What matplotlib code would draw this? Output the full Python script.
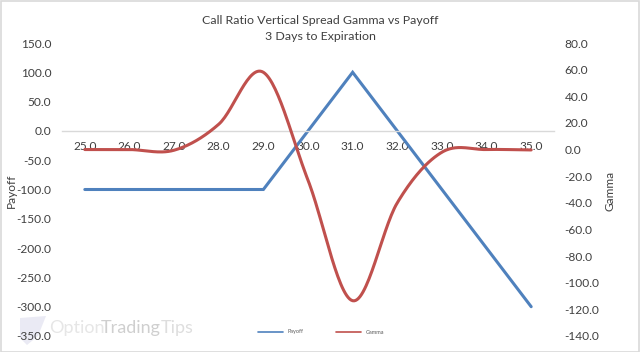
#!/usr/bin/env python3
"""Call ratio vertical spread: gamma vs payoff, two y axes over a category x axis."""

import numpy as np
import matplotlib
matplotlib.use("Agg")
import matplotlib.pyplot as plt
from matplotlib.patches import Polygon, Rectangle

plt.rcParams['font.family'] = ['Lato', 'DejaVu Sans']

# === Data ===
strikes = [25.0, 26.0, 27.0, 28.0, 29.0, 30.0, 31.0, 32.0, 33.0, 34.0, 35.0]
payoff = [-100, -100, -100, -100, -100, 0, 100, 0, -100, -200, -300]
gamma = [0.0, 0.0, -0.5, 19.0, 58.0, -23.0, -113.5, -40.0, -2.0, 0.0, -0.3]

payoff_ticks = [150, 100, 50, 0, -50, -100, -150, -200, -250, -300, -350]
gamma_ticks = [80, 60, 40, 20, 0, -20, -40, -60, -80, -100, -120, -140]

BLUE = '#4f81bd'
RED = '#c0504d'
TEXT = '#404040'
W, H = 640, 352
FS = 8.6


def smooth(y, n=30, tension=0.5):
    """Catmull-Rom curve through the points, like a spreadsheet smoothed line."""
    y = np.asarray(y, dtype=float)
    idx = np.arange(len(y))
    pad = np.concatenate(([y[0]], y, [y[-1]]))
    xs, ys = [], []
    t = np.linspace(0, 1, n, endpoint=False)
    for i in idx[:-1]:
        p0, p1, p2, p3 = pad[i], pad[i + 1], pad[i + 2], pad[i + 3]
        m1 = tension * (p2 - p0)
        m2 = tension * (p3 - p1)
        ys.append((2*t**3 - 3*t**2 + 1)*p1 + (t**3 - 2*t**2 + t)*m1
                  + (-2*t**3 + 3*t**2)*p2 + (t**3 - t**2)*m2)
        xs.append(i + t)
    xs.append([idx[-1]])
    ys.append([y[-1]])
    return np.concatenate(xs), np.concatenate(ys)


fig = plt.figure(figsize=(W / 100, H / 100), dpi=100)
ax = fig.add_axes([62.5 / W, 1 - 336 / H, 491 / W, 293 / H])
ax2 = ax.twinx()

x = np.arange(len(strikes))
ax.set_xlim(-0.5, len(strikes) - 0.5)
ax.set_ylim(-350, 150)
ax2.set_ylim(-140, 80)

line1, = ax.plot(x, payoff, color=BLUE, lw=2.2, solid_capstyle='round', solid_joinstyle='miter', label='Payoff')
sx, sy = smooth(gamma)
line2, = ax2.plot(sx, sy, color=RED, lw=2.2, solid_capstyle='round', label='Gamma')

for s in ['top', 'left', 'right']:
    ax.spines[s].set_visible(False)
    ax2.spines[s].set_visible(False)
ax2.spines['bottom'].set_visible(False)
ax.spines['bottom'].set_position(('data', 0))
ax.spines['bottom'].set_color('#d9d9d9')
ax.spines['bottom'].set_linewidth(1)

ax.set_xticks(x)
ax.set_xticklabels([f"{v:.1f}" for v in strikes])
ax.tick_params(axis='x', length=0, pad=7, labelsize=FS, labelcolor=TEXT)
ax.set_yticks(payoff_ticks)
ax.set_yticklabels([f"{v:.1f}" for v in payoff_ticks])
ax.tick_params(axis='y', length=0, pad=8, labelsize=FS, labelcolor=TEXT)
ax2.set_yticks(gamma_ticks)
ax2.set_yticklabels([f"{v:.1f}" for v in gamma_ticks])
ax2.tick_params(axis='y', length=0, pad=8, labelsize=FS, labelcolor=TEXT)

fig.text(11 / W, 1 - 191 / H, 'Payoff', rotation=90, ha='center', va='center', fontsize=FS, color=TEXT)
fig.text(610 / W, 1 - 191 / H, 'Gamma', rotation=90, ha='center', va='center', fontsize=FS, color=TEXT)
fig.text(320 / W, 1 - 20 / H, 'Call Ratio Vertical Spread Gamma vs Payoff', ha='center', va='center', fontsize=8.9, color=TEXT)
fig.text(320 / W, 1 - 36 / H, '3 Days to Expiration', ha='center', va='center', fontsize=8.9, color=TEXT)

leg = fig.legend(handles=[line1, line2], ncol=2, loc='center', bbox_to_anchor=(321 / W, 1 - 332 / H),
                 frameon=False, fontsize=4, labelcolor='#595959', handlelength=4.6, handletextpad=0.8,
                 columnspacing=5.7, borderpad=0)
for h in leg.get_lines():
    h.set_linewidth(1.2)

# watermark
fig.text(49 / W, 1 - 328 / H, 'Option', fontsize=13, color='#e6e6e6', va='center', ha='left', zorder=0)
fig.text(101 / W, 1 - 328 / H, 'Trading', fontsize=13, color='#cfcfcf', va='center', ha='left', zorder=0)
fig.text(161 / W, 1 - 328 / H, 'Tips', fontsize=13, color='#dedede', va='center', ha='left', zorder=0)
logo = [(20 / W, 1 - 318 / H), (46 / W, 1 - 316 / H), (38 / W, 1 - 336 / H), (27 / W, 1 - 345 / H), (20 / W, 1 - 338 / H)]
fig.add_artist(Polygon(logo, closed=True, transform=fig.transFigure, facecolor='#eaeaf4', edgecolor='none', zorder=0))

# outer chart border
fig.add_artist(Rectangle((0.5 / W, 0.5 / H), (W - 1.5) / W, (H - 1.5) / H, transform=fig.transFigure,
                         fill=False, edgecolor='#d9d9d9', lw=1.2))

fig.savefig('out.png', dpi=100)
